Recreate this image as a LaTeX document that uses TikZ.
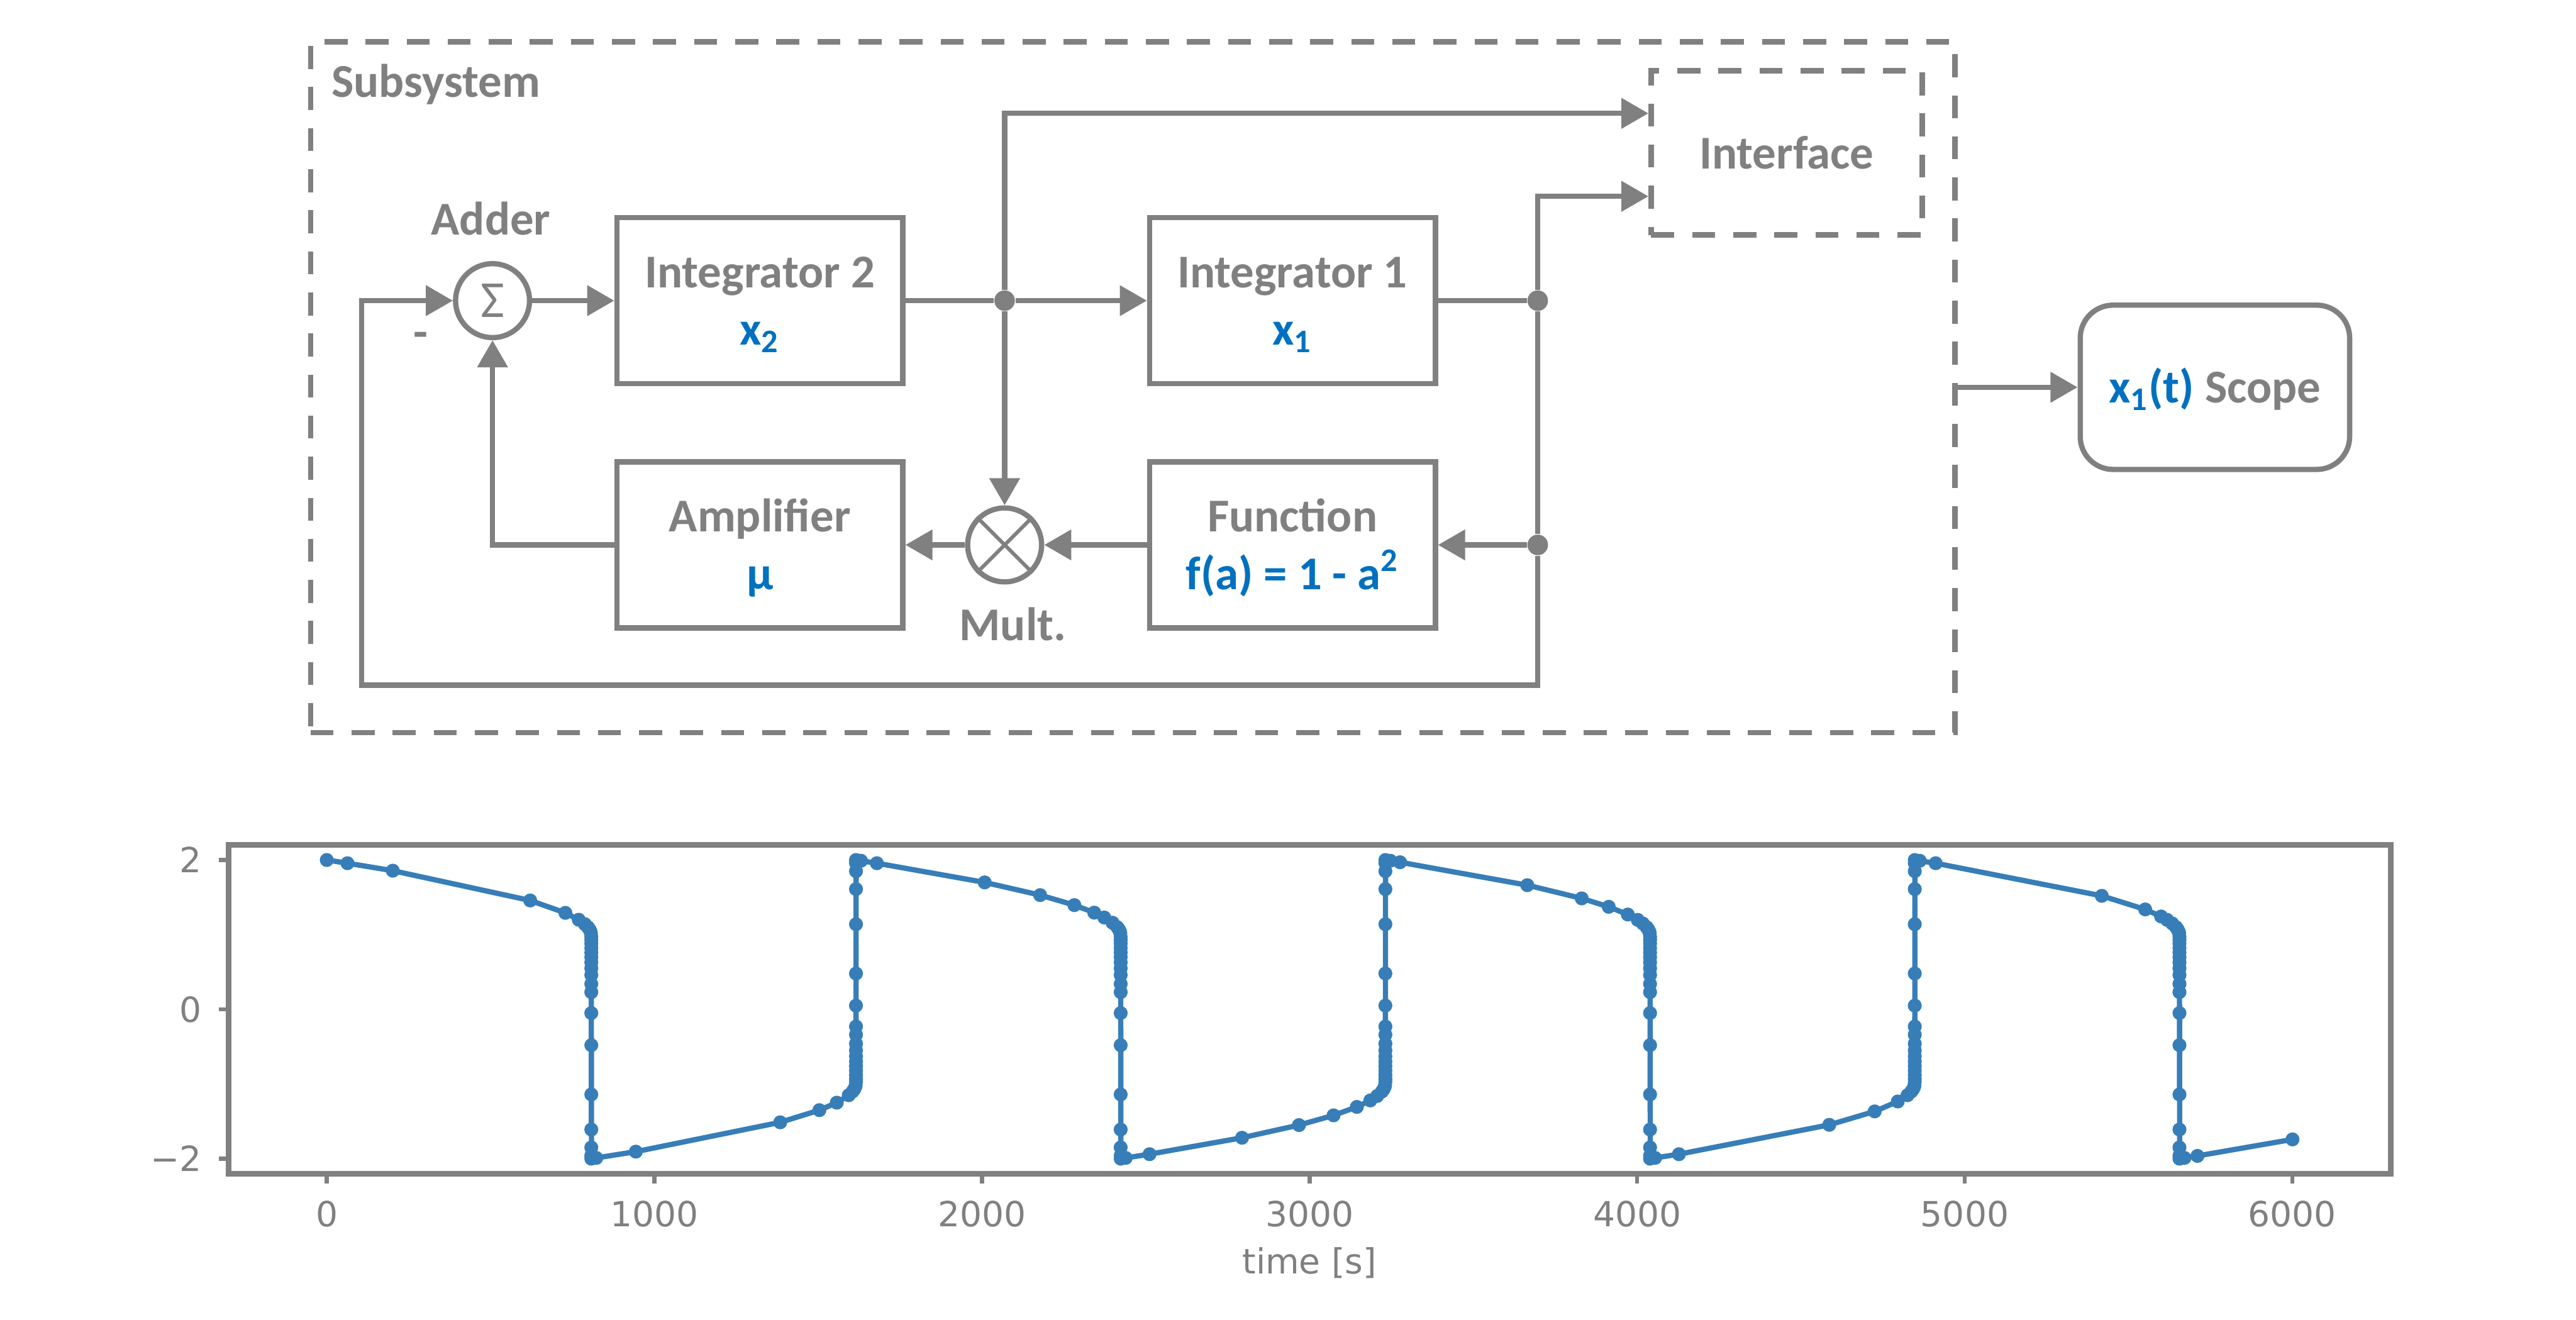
\documentclass[tikz,border=0pt]{standalone}
\usepackage{fontspec}
\setmainfont{Carlito}
\newfontfamily\plotfont{DejaVu Sans}
\usetikzlibrary{arrows.meta,calc,positioning}
\definecolor{Wire}{HTML}{808080}
\definecolor{Signal}{HTML}{0070C0}
\definecolor{Trace}{HTML}{377EB8}
\newcommand\var[1]{\textcolor{Signal}{#1}}
\newcommand\blockfont{\fontsize{16.3}{19.9}\selectfont\bfseries}
% name over value, with fixed room above and below
\newcommand\twolines[2]{\rule{0pt}{0.55cm}#1\\#2\rule[-0.17cm]{0pt}{0.17cm}}
% solver points on one half cycle: slow branch, then the fast jump
\newcommand\branchmarks[3]{%
  \foreach \v in {#3}{%
    \pgfmathsetmacro\tpos{#1+ln(\v/2)+2-\v*\v/2}
    \fill[Trace] (\tpos,{(#2)*\v}) circle[radius=0.085cm];}}
\newcommand\jumpmarks[2]{%
  \branchmarks{#1}{#2}{1.1,1.07,1.04,1.02}
  \foreach \v in {0.97,0.93,0.88,0.82,0.76,0.7,0.63,0.55,0.46,0.34,0.23,-0.05,-0.48,-1.14,-1.61,-1.85,-1.96,-2}{%
    \fill[Trace] ({#1+0.8075},{(#2)*\v}) circle[radius=0.085cm];}}
\newcommand\branch[3]{%
  \draw[trace] ({#1},{2*(#2)})
    \foreach \v in {#3,1.1,1.07,1.04,1.02}{ -- ({#1+ln(\v/2)+2-\v*\v/2},{(#2)*\v}) }
    -- ({#1+0.8075},{0.97*(#2)}) -- ({#1+0.808},{-2*(#2)});
  \branchmarks{#1}{#2}{#3}
  \jumpmarks{#1}{#2}}
\tikzset{
  block/.style={
    draw=Wire, line width=0.064cm, text=Wire, font=\blockfont,
    minimum width=3.48cm, minimum height=2.02cm, align=center, inner sep=0pt
  },
  groupbox/.style={
    draw=Wire, line width=0.064cm, dash pattern=on 0.28cm off 0.22cm
  },
  ifbox/.style={
    groupbox, text=Wire, font=\blockfont,
    minimum width=3.3cm, minimum height=2.0cm
  },
  scopebox/.style={
    block, rounded corners=0.4cm, minimum width=3.28cm, minimum height=2.0cm,
    text height=0.45cm, text depth=0.07cm
  },
  summer/.style={
    circle, draw=Wire, line width=0.064cm, text=Wire,
    minimum size=0.9cm, inner sep=0pt, font=\fontsize{18}{20}\selectfont
  },
  dot/.style={circle, fill=Wire, minimum size=0.25cm, inner sep=0pt},
  caption/.style={text=Wire, font=\blockfont, inner sep=0pt},
  wire/.style={draw=Wire, line width=0.064cm},
  flow/.style={wire, -{Triangle[length=0.33cm,width=0.36cm]}},
  spine/.style={draw=Wire, line width=0.07cm},
  tickmark/.style={draw=Wire, line width=0.05cm},
  ticklabel/.style={text=Wire, font=\plotfont\fontsize{12}{14}\selectfont, inner sep=0pt},
  trace/.style={draw=Trace, line width=0.064cm, line join=round, line cap=round}
}

\begin{document}
\begin{tikzpicture}[node distance=1cm and 2.94cm]
  \useasboundingbox (0,0) rectangle (31.36,-16.07);
  % subsystem frame
  \node[groupbox, minimum width=20.02cm, minimum height=8.41cm] (sub) at (13.79,-4.715) {};
  \node[caption, anchor=base west] (subname) at (4.03,-1.18) {Subsystem};
  % blocks
  \node[block] (int2) at (9.25,-3.66) {\twolines{Integrator 2}{\var{x\textsubscript{2}}}};
  \node[block, right=of int2] (int1) {\twolines{Integrator 1}{\var{x\textsubscript{1}}}};
  \node[block, below=0.89cm of int2] (amp) {\twolines{Amplifier}{\var{μ}}};
  \node[block, below=0.89cm of int1] (fun) {\twolines{Function}{\var{f(a) = 1 - a\textsuperscript{2}}}};
  \node[summer, left=1.0cm of int2] (adder) {Σ};
  \node[caption, above=0.32cm of adder, anchor=base, xshift=-0.02cm] (addname) {Adder};
  \node[caption, anchor=base] (minus) at (5.12,-4.24) {-};
  \node[ifbox] (iface) at (21.75,-1.86) {Interface};
  \node[scopebox, right=1.46cm of sub] (scope) {\var{x\textsubscript{1}(t)} Scope};
  % junctions and multiplier
  \node[dot] (j1) at (12.23,-3.66) {};
  \node[dot] (j2) at (18.72,-3.66) {};
  \node[dot] (j3) at (j2 |- fun) {};
  \node[summer] (mult) at (j1 |- amp) {};
  \draw[wire, line width=0.045cm] (mult.north west) -- (mult.south east)
    (mult.north east) -- (mult.south west);
  \node[caption, below=0.68cm of mult, anchor=base, xshift=0.1cm] (multname) {Mult.};
  \coordinate (ifin1) at ($(iface.west)+(0,0.48)$);
  \coordinate (ifin2) at ($(iface.west)+(0,-0.53)$);
  \coordinate (loop) at (4.40,-8.34);
  % connections
  \draw[flow] (adder) -- (int2);
  \draw[wire] (int2) -- (j1);
  \draw[flow] (j1) -- (int1);
  \draw[wire] (int1) -- (j2);
  \draw[flow] (j1) |- (ifin1);
  \draw[flow] (j2) |- (ifin2);
  \draw[flow] (j1) -- (mult);
  \draw[wire] (j2) -- (j3);
  \draw[flow] (j3) -- (fun);
  \draw[flow] (fun) -- (mult);
  \draw[flow] (mult) -- (amp);
  \draw[flow] (amp) -| (adder);
  \draw[flow] (j3) |- (loop) |- (adder);
  \draw[flow] (sub) -- (scope);
  % x1 over time
  \begin{scope}[shift={(3.978,-12.288)}, x=3.988cm, y=0.909cm]
    \branch{0}{1}{2,1.957,1.857,1.458,1.292,1.2,1.14}
    \branch{0.808}{-1}{1.99,1.906,1.513,1.35,1.25,1.15}
    \branch{1.616}{1}{1.99,1.957,1.7,1.53,1.396,1.295,1.23,1.16}
    \branch{2.424}{-1}{1.99,1.94,1.72,1.55,1.42,1.307,1.22,1.16}
    \branch{3.232}{1}{1.99,1.97,1.663,1.486,1.373,1.27,1.198,1.15}
    \branch{4.040}{-1}{1.99,1.94,1.547,1.367,1.234,1.15}
    \branch{4.848}{1}{1.99,1.957,1.52,1.338,1.244,1.198,1.15}
    \draw[trace] (5.656,-2) \foreach \v in {1.99,1.963,1.742}{ -- ({5.656+ln(\v/2)+2-\v*\v/2},{-\v}) };
    \branchmarks{5.656}{-1}{1.99,1.963,1.742}
    % axes
    \draw[spine] (-0.3,-2.2) rectangle (6.3,2.2);
    \foreach \v/\txt in {-2/{−2},0/0,2/2}{
      \draw[tickmark] (-0.3,\v) -- ++(-0.12cm,0);
      \node[ticklabel, anchor=east] at (-0.3806,\v) {\txt};
    }
    \foreach \t/\lab in {0/0,1/1000,2/2000,3/3000,4/4000,5/5000,6/6000}{
      \draw[tickmark] (\t,-2.2) -- ++(0,-0.12cm);
      \node[ticklabel, anchor=north] at (\t,-2.561) {\lab};
    }
    \node[ticklabel, anchor=base] (timename) at (3,-3.54) {time [s]};
  \end{scope}
\end{tikzpicture}
\end{document}
